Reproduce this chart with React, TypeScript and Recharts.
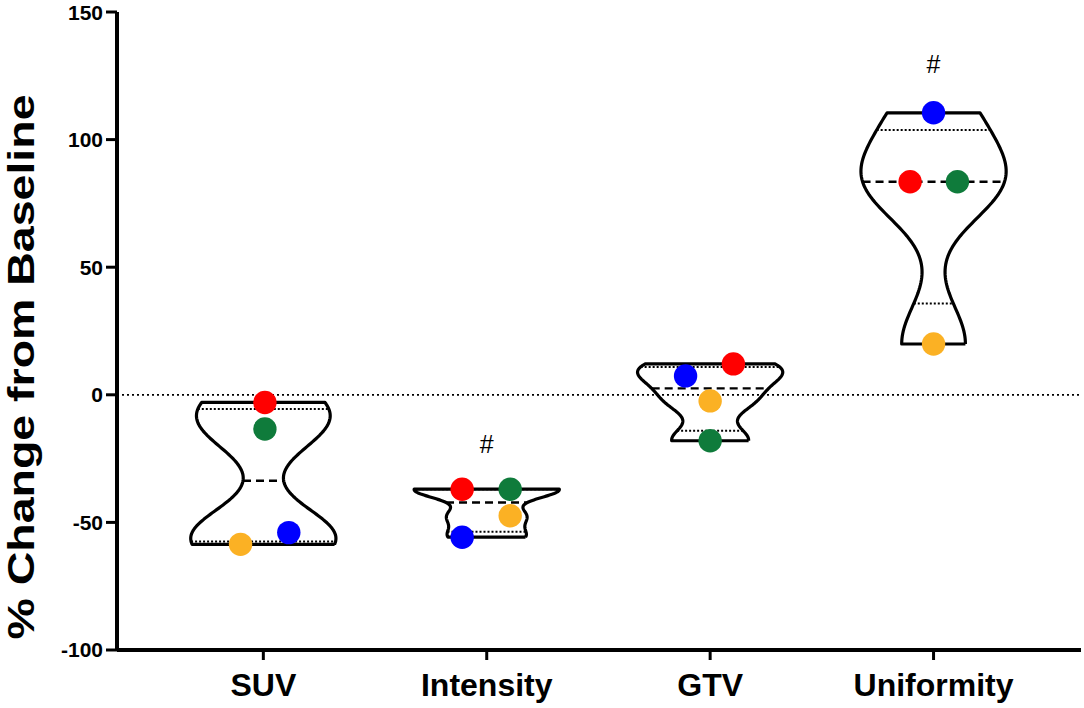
import React from 'react';
import { ScatterChart, Scatter, XAxis, YAxis } from 'recharts';

// ---------- data ----------
const categories = ['SUV', 'Intensity', 'GTV', 'Uniformity'];
const redValues = [-3, -37, 12.1, 83.5];
const greenValues = [-13.4, -37, -18, 83.5];
const blueValues = [-54, -55.8, 7.4, 110.5];
const yellowValues = [-58.6, -47.4, -2.4, 19.9];
// horizontal jitter of each dot (category units)
const redJitter = [0.007, -0.11, 0.104, -0.105];
const greenJitter = [0.007, 0.105, 0, 0.107];
const blueJitter = [0.114, -0.11, -0.11, 0];
const yellowJitter = [-0.102, 0.105, 0, 0];
const yTicks = [-100, -50, 0, 50, 100, 150];
const hashCategories = [1, 3];
const hashValues = [-19.2, 129.8];

// ---------- style constants ----------
const FONT = '"Liberation Sans", Arial, Helvetica, sans-serif';
const X_DOMAIN: [number, number] = [-0.655, 3.66];
const Y_DOMAIN: [number, number] = [-100, 150];
const HALF_WIDTH = 0.325;
const DOT_R = 11.7;
const COLORS = { red: '#FF0000', green: '#0F7B3B', blue: '#0000FF', yellow: '#FBB124' };

// ---------- statistics ----------
function quantile(vals: number[], p: number) {
  const s = [...vals].sort((a, b) => a - b);
  const n = s.length;
  const pos = p * (n + 1);
  if (pos <= 1) return s[0];
  if (pos >= n) return s[n - 1];
  const lo = Math.floor(pos);
  const f = pos - lo;
  return s[lo - 1] + f * (s[lo] - s[lo - 1]);
}

function makeDensity(vals: number[]) {
  const n = vals.length;
  const mean = vals.reduce((a, b) => a + b, 0) / n;
  const sd = Math.sqrt(vals.reduce((a, b) => a + (b - mean) ** 2, 0) / (n - 1));
  const iqr = quantile(vals, 0.75) - quantile(vals, 0.25);
  const h = 0.54 * Math.min(sd, iqr / 1.34) * Math.pow(n, -0.2);
  const raw = (y: number) => vals.reduce((a, v) => a + Math.exp(-0.5 * ((y - v) / h) ** 2), 0);
  const lo = Math.min(...vals);
  const hi = Math.max(...vals);
  const steps = 90;
  const ys: number[] = [];
  for (let i = 0; i <= steps; i++) ys.push(lo + ((hi - lo) * i) / steps);
  const maxD = Math.max(...ys.map(raw));
  return { ys, w: (y: number) => raw(y) / maxD };
}

const groups = categories.map((_, i) => [redValues[i], greenValues[i], blueValues[i], yellowValues[i]]);

const outlines = groups.map((vals, c) => {
  const { ys, w } = makeDensity(vals);
  const right = ys.map((y) => ({ x: c + w(y) * HALF_WIDTH, y }));
  const left = [...ys].reverse().map((y) => ({ x: c - w(y) * HALF_WIDTH, y }));
  return [...right, ...left, right[0]];
});

const statLine = (c: number, vals: number[], p: number) => {
  const { w } = makeDensity(vals);
  const q = quantile(vals, p);
  const hw = w(q) * HALF_WIDTH;
  return [
    { x: c - hw, y: q },
    { x: c + hw, y: q },
  ];
};

const medianLines = groups.map((vals, c) => statLine(c, vals, 0.5));
const q1Lines = groups.map((vals, c) => statLine(c, vals, 0.25));
const q3Lines = groups.map((vals, c) => statLine(c, vals, 0.75));

const dots = (values: number[], jitter: number[]) => values.map((y, i) => ({ x: i + jitter[i], y }));
const zeroLine = [
  { x: X_DOMAIN[0], y: 0 },
  { x: X_DOMAIN[1], y: 0 },
];
const hashData = hashCategories.map((c, i) => ({ x: c, y: hashValues[i] }));

const Empty = () => <g />;
const dotShape = (color: string) => (props: any) =>
  <circle cx={props.cx} cy={props.cy} r={DOT_R} fill={color} />;

const HashShape = (props: any) => (
  <text x={props.cx} y={props.cy} textAnchor="middle" dominantBaseline="central" fontFamily={FONT} fontSize={25} fill="#000">
    #
  </text>
);

const YLabel = () => (
  <text
    x={34}
    y={367}
    transform="rotate(-90 34 367)"
    textAnchor="middle"
    fontFamily={FONT}
    fontWeight="bold"
    fontSize={36}
    textLength={545}
    lengthAdjust="spacingAndGlyphs"
    fill="#000"
  >
    % Change from Baseline
  </text>
);

export default function App() {
  return (
    <div style={{ position: 'absolute', left: 0, top: 0, background: '#fff' }}>
      <ScatterChart width={1084} height={708} margin={{ top: 12, right: 3, bottom: 8, left: 0 }}>
        <XAxis
          type="number"
          dataKey="x"
          domain={X_DOMAIN}
          ticks={[0, 1, 2, 3]}
          tickFormatter={(v: number) => categories[v] ?? ''}
          allowDataOverflow
          height={50}
          tickSize={10}
          tickMargin={13}
          axisLine={{ stroke: '#000', strokeWidth: 4 }}
          tickLine={{ stroke: '#000', strokeWidth: 3 }}
          tick={{ fill: '#000', fontSize: 32, fontWeight: 'bold', fontFamily: FONT }}
        />
        <YAxis
          type="number"
          dataKey="y"
          domain={Y_DOMAIN}
          ticks={yTicks}
          allowDataOverflow
          width={117}
          tickSize={11}
          tickMargin={3}
          axisLine={{ stroke: '#000', strokeWidth: 4 }}
          tickLine={{ stroke: '#000', strokeWidth: 3 }}
          tick={{ fill: '#000', fontSize: 21, fontWeight: 'bold', fontFamily: FONT }}
          label={{ content: () => <YLabel /> }}
        />
        <Scatter
          data={zeroLine}
          line={{ stroke: '#000', strokeWidth: 1.8, strokeDasharray: '2 3' }}
          shape={Empty}
          isAnimationActive={false}
        />
        {outlines.map((d, i) => (
          <Scatter
            key={'o' + i}
            data={d}
            line={{ stroke: '#000', strokeWidth: 3.2, strokeLinejoin: 'round', fill: 'none' }}
            shape={Empty}
            isAnimationActive={false}
          />
        ))}
        {medianLines.map((d, i) => (
          <Scatter
            key={'m' + i}
            data={d}
            line={{ stroke: '#000', strokeWidth: 2.4, strokeDasharray: '8 5' }}
            shape={Empty}
            isAnimationActive={false}
          />
        ))}
        {[...q1Lines, ...q3Lines].map((d, i) => (
          <Scatter
            key={'q' + i}
            data={d}
            line={{ stroke: '#000', strokeWidth: 2, strokeDasharray: '2 2' }}
            shape={Empty}
            isAnimationActive={false}
          />
        ))}
        <Scatter data={dots(redValues, redJitter)} shape={dotShape(COLORS.red)} isAnimationActive={false} />
        <Scatter data={dots(greenValues, greenJitter)} shape={dotShape(COLORS.green)} isAnimationActive={false} />
        <Scatter data={dots(blueValues, blueJitter)} shape={dotShape(COLORS.blue)} isAnimationActive={false} />
        <Scatter data={dots(yellowValues, yellowJitter)} shape={dotShape(COLORS.yellow)} isAnimationActive={false} />
        <Scatter data={hashData} shape={HashShape} isAnimationActive={false} />
      </ScatterChart>
    </div>
  );
}
